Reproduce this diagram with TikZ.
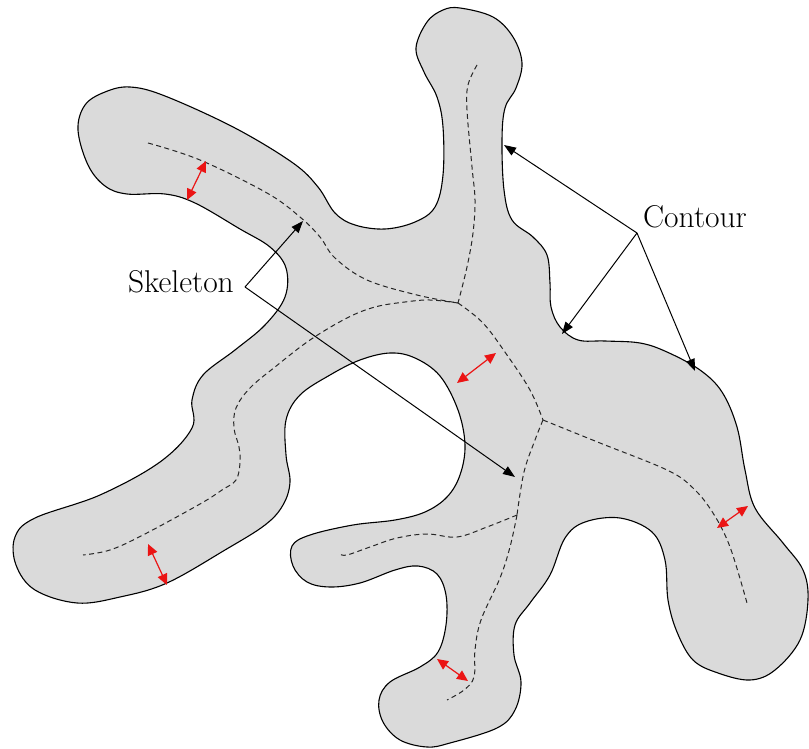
\documentclass[tikz,border=0pt]{standalone}
\usepackage{fontspec}
\usetikzlibrary{arrows.meta}
\definecolor{shapefill}{RGB}{218,218,218}
\definecolor{widthred}{RGB}{235,20,20}
\begin{document}
\begin{tikzpicture}[x=1pt,y=-1pt,
  outline/.style={draw=black,line width=1.1pt,fill=shapefill,line join=round},
  skel/.style={draw=black!85,line width=1pt,dash pattern=on 5pt off 3.5pt},
  widtharrow/.style={draw=widthred,line width=1.2pt,{Triangle[length=11pt,width=10pt]}-{Triangle[length=11pt,width=10pt]}},
  pointer/.style={draw=black,line width=1pt,-{Triangle[length=12pt,width=9pt]}},
  lbl/.style={font=\fontsize{31.5}{36}\selectfont,inner sep=0pt}]
\useasboundingbox (0,0) rectangle (809,749);

% outer contour of the shape
\path[outline] plot[smooth cycle,tension=0.6] coordinates {
 (460,8) (493,17) (513,37) (522,63) (516,88) (505,108) (502,140) (504,190)
 (512,220) (533,237) (547,255) (550,283) (551,307) (560,327) (578,340)
 (605,341) (640,343) (667,352) (700,370) (722,392) (737,427) (745,470)
 (755,508) (783,543) (803,570) (808,600) (800,640) (775,670) (750,680)
 (718,673) (693,660) (677,632) (668,600) (665,560) (652,532) (620,518)
 (585,522) (565,538) (550,575) (530,603) (515,625) (514,655) (521,682)
 (515,710) (497,728) (450,743) (427,747) (400,740) (383,722) (379,700)
 (390,682) (420,667) (438,652) (446,625) (446,595) (437,574) (418,566)
 (395,570) (360,583) (330,587) (307,582) (293,566) (292,546) (310,535)
 (353,525) (395,520) (425,512) (447,497) (460,475) (465,445) (458,410)
 (440,376) (415,358) (390,353) (360,360) (330,375) (300,395) (286,420)
 (286,455) (290,482) (283,505) (265,525) (225,550) (167,583) (120,597)
 (77,603) (35,590) (16,565) (15,537) (35,518) (100,495) (160,462)
 (192,428) (192,400) (203,375) (235,350) (265,325) (285,297) (286,268)
 (270,247) (240,229) (195,203) (165,194) (127,194) (105,186) (88,165)
 (78,130) (85,105) (105,92) (130,87) (165,96) (235,128) (293,163)
 (318,187) (335,213) (355,225) (385,229) (415,222) (435,207) (443,175)
 (443,127) (437,97) (424,72) (416,48) (427,22) (443,10)};

% skeleton junctions
\coordinate (j1) at (458,303);
\coordinate (j2) at (543,420);
\coordinate (j3) at (517,515);

% skeleton branches
\draw[skel] plot[smooth,tension=0.6] coordinates {(477,65) (468,85) (467,110) (472,167) (475,200) (473,233) (467,267) (458,303)};
\draw[skel] plot[smooth,tension=0.6] coordinates {(148,143) (200,160) (267,193) (300,217) (320,237) (335,258) (367,280) (417,295) (458,303)};
\draw[skel] plot[smooth,tension=0.6] coordinates {(458,303) (430,300) (405,302) (375,307) (347,318) (310,340) (275,367) (250,388) (236,408) (234,428) (239,447) (240,463) (236,480) (222,490) (200,504) (143,535) (110,550) (83,555)};
\draw[skel] plot[smooth,tension=0.6] coordinates {(458,303) (483,323) (507,355) (530,390) (543,420)};
\draw[skel] plot[smooth,tension=0.6] coordinates {(543,420) (600,443) (667,470) (693,488) (713,513) (730,547) (747,603)};
\draw[skel] plot[smooth,tension=0.6] coordinates {(543,420) (535,440) (524,472) (517,515)};
\draw[skel] plot[smooth,tension=0.6] coordinates {(517,515) (510,547) (500,578) (481,620) (475,650) (474,677) (464,690) (447,700)};
\draw[skel] plot[smooth,tension=0.6] coordinates {(517,515) (487,527) (457,537) (427,534) (397,538) (370,547) (347,555) (340,554)};

% local width markers
\coordinate (wa1) at (206,161); \coordinate (wa2) at (187,200);
\coordinate (wb1) at (496,353); \coordinate (wb2) at (457,383);
\coordinate (wc1) at (148,544); \coordinate (wc2) at (167,585);
\coordinate (wd1) at (748,506); \coordinate (wd2) at (717,528);
\coordinate (we1) at (437,659); \coordinate (we2) at (468,681);
\draw[widtharrow] (wa1) -- (wa2);
\draw[widtharrow] (wb1) -- (wb2);
\draw[widtharrow] (wc1) -- (wc2);
\draw[widtharrow] (wd1) -- (wd2);
\draw[widtharrow] (we1) -- (we2);

% labels and pointers
\node[lbl,anchor=base east] (skelabel) at (234,292) {Skeleton};
\coordinate (sv) at (245,287);
\coordinate (st1) at (303,221);
\coordinate (st2) at (515,477);
\draw[pointer] (sv) -- (st1);
\draw[pointer] (sv) -- (st2);

\node[lbl,anchor=base west] (conlabel) at (643,227) {Contour};
\coordinate (cv) at (637,233);
\coordinate (ct1) at (504,145);
\coordinate (ct2) at (562,334);
\coordinate (ct3) at (695,371);
\draw[pointer] (cv) -- (ct1);
\draw[pointer] (cv) -- (ct2);
\draw[pointer] (cv) -- (ct3);
\end{tikzpicture}
\end{document}
